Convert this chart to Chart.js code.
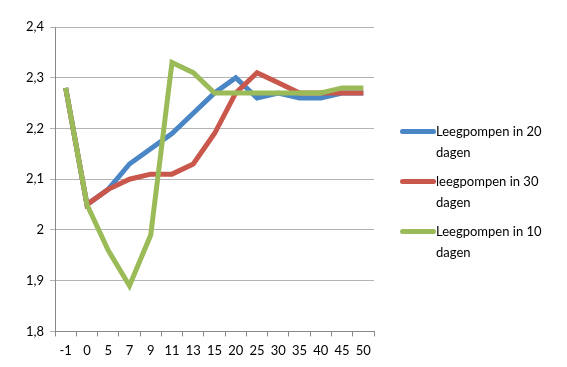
<!DOCTYPE html>
<html>
<head>
<meta charset="utf-8">
<script src="https://cdn.jsdelivr.net/npm/chart.js@4/dist/chart.umd.min.js"></script>
<style>
  html, body { margin: 0; padding: 0; background: #fff; }
  #wrap { position: relative; width: 567px; height: 367px; }
  #legend { position: absolute; left: 400px; top: 121px; font-family: Lato, sans-serif; font-size: 13px; color: #000; }
  .item { position: relative; padding-left: 36px; line-height: 21px; height: 50px; }
  .swatch { position: absolute; left: 0; top: 8px; width: 36px; height: 5px; border-radius: 3px; }
</style>
</head>
<body>
<div id="wrap">
  <canvas id="chart" width="567" height="367"></canvas>
  <div id="legend"></div>
</div>
<script>
const days = ['-1', '0', '5', '7', '9', '11', '13', '15', '20', '25', '30', '35', '40', '45', '50'];
const seriesNames = ['Leegpompen in 20 dagen', 'leegpompen in 30 dagen', 'Leegpompen in 10 dagen'];
const legendLines = [['Leegpompen in 20', 'dagen'], ['leegpompen in 30', 'dagen'], ['Leegpompen in 10', 'dagen']];
const in20 = [2.28, 2.05, 2.08, 2.13, 2.16, 2.19, 2.23, 2.27, 2.30, 2.26, 2.27, 2.26, 2.26, 2.27, 2.27];
const in30 = [2.28, 2.05, 2.08, 2.10, 2.11, 2.11, 2.13, 2.19, 2.27, 2.31, 2.29, 2.27, 2.27, 2.27, 2.27];
const in10 = [2.28, 2.05, 1.96, 1.89, 1.99, 2.33, 2.31, 2.27, 2.27, 2.27, 2.27, 2.27, 2.27, 2.28, 2.28];
const colors = ['#4a86c5', '#c9574c', '#9bbb59'];

const allSeries = [in20, in30, in10];

const ctx = document.getElementById('chart').getContext('2d');
new Chart(ctx, {
  type: 'line',
  data: {
    labels: days,
    datasets: allSeries.map((vals, i) => ({
      label: seriesNames[i],
      data: vals,
      borderColor: colors[i],
      backgroundColor: colors[i],
      borderWidth: 5,
      pointRadius: 0,
      tension: 0,
      order: 3 - i
    }))
  },
  options: {
    responsive: false,
    animation: false,
    layout: { padding: { left: 20, right: 193, top: 27, bottom: 1 } },
    plugins: { legend: { display: false }, tooltip: { enabled: false } },
    scales: {
      x: {
        offset: true,
        grid: { offset: true, drawOnChartArea: false, drawTicks: true, tickLength: 5, color: '#888' },
        border: { color: '#888' },
        ticks: { color: '#000', font: { family: 'Lato', size: 13 }, maxRotation: 0, autoSkip: false, padding: 7 }
      },
      y: {
        min: 1.8,
        max: 2.4,
        grid: { color: '#b3b3b3', tickLength: 5 },
        border: { color: '#888' },
        ticks: {
          stepSize: 0.1,
          color: '#000',
          font: { family: 'Lato', size: 13 },
          padding: 6,
          callback: v => String(Math.round(v * 10) / 10).replace('.', ',')
        }
      }
    }
  }
});

const legend = document.getElementById('legend');
legendLines.forEach((lines, i) => {
  const item = document.createElement('div');
  item.className = 'item';
  item.innerHTML = '<span class="swatch" style="background:' + colors[i] + '"></span>' + lines.join('<br>');
  legend.appendChild(item);
});
</script>
</body>
</html>
